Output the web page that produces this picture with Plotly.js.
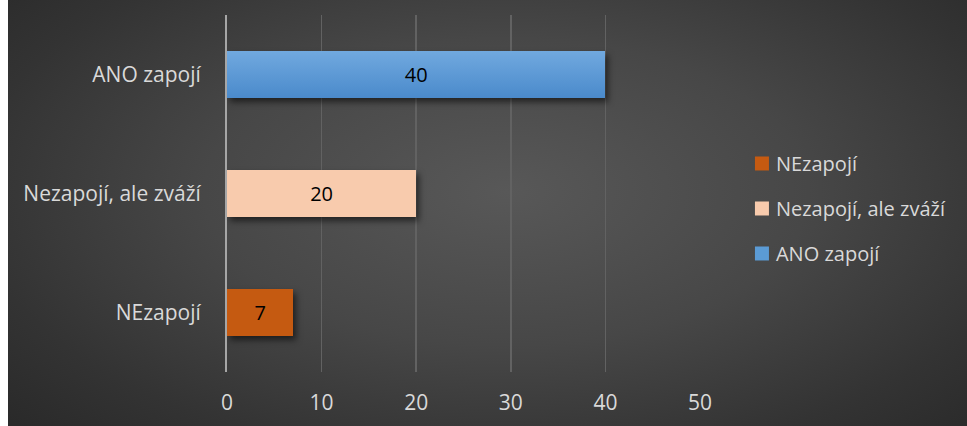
<!DOCTYPE html>
<html>
<head>
<meta charset="utf-8">
<script src="https://cdn.plot.ly/plotly-3.0.1.min.js"></script>
<style>
  html, body { margin: 0; padding: 0; background: #ffffff; }
  #chart {
    position: absolute; left: 8px; top: 0; width: 959px; height: 426px;
    background: radial-gradient(ellipse 70% 80% at 52% 45%, #585858 0%, #474747 45%, #333333 80%, #2a2a2a 100%);
  }
  #chart .barlayer .point path { filter: drop-shadow(3px 4px 3px rgba(0,0,0,0.55)); }
</style>
</head>
<body>
<div id="chart"></div>
<script>
const categories = ["NEzapojí", "Nezapojí, ale zváží", "ANO zapojí"];
const seriesNames = ["NEzapojí", "Nezapojí, ale zváží", "ANO zapojí"];
const values = [7, 20, 40];
const colors = ["#C55A11", "#F8CBAD", "#5B9BD5"];
const xTicks = [0, 10, 20, 30, 40, 50];

const font = "'Open Sans', sans-serif";

const traces = seriesNames.map((name, i) => ({
  type: "bar",
  orientation: "h",
  name: name,
  legendgroup: "g" + i,
  y: [categories[i]],
  x: [values[i]],
  width: 0.4,
  marker: { color: colors[i] },
  text: [String(values[i])],
  textposition: "inside",
  insidetextanchor: "middle",
  textfont: { color: "#000000", size: 20, family: font },
  hoverinfo: "x+y"
}));

const layout = {
  width: 959, height: 426,
  paper_bgcolor: "rgba(0,0,0,0)",
  plot_bgcolor: "rgba(0,0,0,0)",
  margin: { l: 219, r: 267, t: 15, b: 54 },
  barmode: "stack",
  showlegend: true,
  legend: {
    x: 1.076, xanchor: "left",
    y: 0.458, yanchor: "middle",
    traceorder: "grouped",
    tracegroupgap: 16,
    font: { color: "#D9D9D9", size: 20, family: font },
    bgcolor: "rgba(0,0,0,0)"
  },
  xaxis: {
    range: [0, 50],
    tickvals: xTicks,
    ticktext: xTicks.map(String),
    showgrid: true,
    gridcolor: "#626262",
    gridwidth: 1.5,
    zeroline: false,
    showline: false,
    ticks: "",
    ticklabelstandoff: 16,
    tickfont: { color: "#D9D9D9", size: 21, family: font },
    fixedrange: true
  },
  yaxis: {
    type: "category",
    categoryorder: "array",
    categoryarray: categories,
    showgrid: false,
    zeroline: false,
    showline: true,
    linecolor: "#A6A6A6",
    linewidth: 2,
    ticks: "",
    ticklabelstandoff: 20,
    tickfont: { color: "#D9D9D9", size: 21, family: font },
    fixedrange: true
  },
  font: { family: font, color: "#D9D9D9" }
};

Plotly.newPlot("chart", traces, layout, { displayModeBar: false, staticPlot: true }).then(gd => {
  // vertical gradient on the blue bar, as in the reference
  const svg = gd.querySelector("svg.main-svg");
  const ns = "http://www.w3.org/2000/svg";
  let defs = svg.querySelector("defs");
  if (!defs) { defs = document.createElementNS(ns, "defs"); svg.insertBefore(defs, svg.firstChild); }
  const grad = document.createElementNS(ns, "linearGradient");
  grad.setAttribute("id", "blueGrad");
  grad.setAttribute("x1", "0"); grad.setAttribute("y1", "0");
  grad.setAttribute("x2", "0"); grad.setAttribute("y2", "1");
  [["0", "#71A9DF"], ["1", "#4A8ACB"]].forEach(([o, c]) => {
    const s = document.createElementNS(ns, "stop");
    s.setAttribute("offset", o); s.setAttribute("stop-color", c);
    grad.appendChild(s);
  });
  defs.appendChild(grad);
  const traceGroups = gd.querySelectorAll(".barlayer .trace");
  const blue = traceGroups[2] && traceGroups[2].querySelector(".point path");
  if (blue) blue.style.fill = "url(#blueGrad)";
  // slightly larger legend swatches, a little apart from the text
  gd.querySelectorAll(".legendpoints path").forEach(p => {
    p.setAttribute("d", "M13,7H-1V-7H13Z");
  });
});
</script>
</body>
</html>
